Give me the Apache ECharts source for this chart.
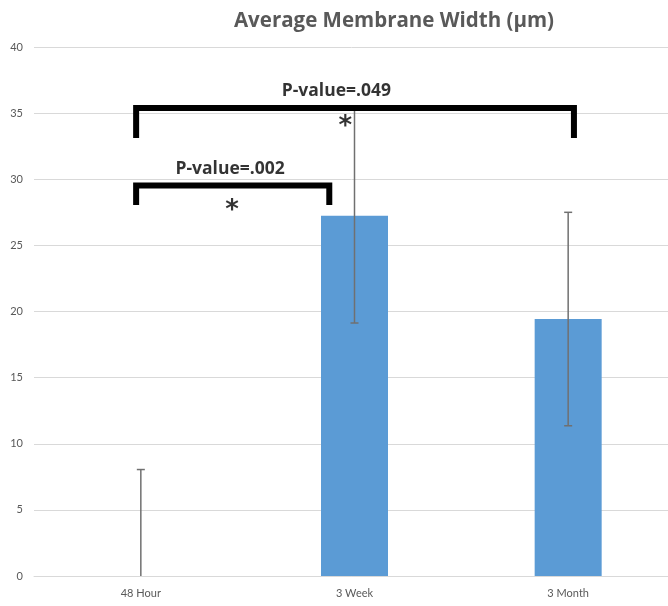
<!DOCTYPE html>
<html>
<head>
<meta charset="utf-8">
<script src="https://cdn.jsdelivr.net/npm/echarts@6/dist/echarts.min.js"></script>
<style>html,body{margin:0;padding:0;background:#fff}#c{width:668px;height:606px}</style>
</head>
<body>
<div id="c"></div>
<script>
const titleText = 'Average Membrane Width (µm)';
const categories = ['48 Hour', '3 Week', '3 Month'];
const means = [0, 27.24, 19.43];
const errors = [8.05, 8.11, 8.07];
const yTicks = [0, 5, 10, 15, 20, 25, 30, 35, 40];

// bracket annotations (x in category units on a hidden value axis, y in data units)
const bracketWide = [[-0.022, 33.12], [-0.022, 35.39], [2.027, 35.39], [2.027, 33.12]];
const bracketNarrow = [[-0.022, 28.05], [-0.022, 29.53], [0.882, 29.53], [0.882, 28.05]];
const pLabels = [[0.915, 36.65, 'P-value=.049'], [0.418, 30.75, 'P-value=.002']];
const stars = [[0.957, 33.95], [0.427, 27.6]];

const chart = echarts.init(document.getElementById('c'));
const errData = categories.map((c, i) => [i, Math.max(0, means[i] - errors[i]), means[i] + errors[i], means[i] - errors[i] >= 0 ? 1 : 0]);

chart.setOption({
  animation: false,
  title: {
    text: titleText, left: 389, top: 6, textAlign: 'center',
    textStyle: { fontFamily: 'Open Sans', fontWeight: 'bold', fontSize: 20.5, color: '#595959' }
  },
  grid: { left: 34, top: 47, width: 641, height: 529, containLabel: false, outerBoundsMode: 'none' },
  xAxis: [{
    type: 'category', data: categories,
    axisLine: { lineStyle: { color: '#d9d9d9', width: 1 } },
    axisTick: { show: false },
    axisLabel: { color: '#595959', fontSize: 11, fontFamily: 'Lato', margin: 12 }
  }, {
    type: 'value', min: -0.5, max: 2.5, show: false
  }],
  yAxis: {
    type: 'value', min: yTicks[0], max: yTicks[yTicks.length - 1], interval: 5,
    axisLine: { show: false }, axisTick: { show: false },
    splitLine: { lineStyle: { color: '#d9d9d9', width: 1 } },
    axisLabel: { color: '#595959', fontSize: 11, fontFamily: 'Lato', margin: 11 }
  },
  series: [{
    type: 'bar', data: means, barWidth: 67, xAxisIndex: 0,
    itemStyle: { color: '#5b9bd5' }, z: 2
  }, {
    type: 'custom', xAxisIndex: 0, data: errData, z: 3,
    renderItem: function (params, api) {
      const x = api.value(0);
      const lo = api.coord([x, api.value(1)]);
      const hi = api.coord([x, api.value(2)]);
      const hasLowCap = api.value(3) === 1;
      const cw = 4;
      const st = { stroke: '#707070', lineWidth: 1.5 };
      const children = [
        { type: 'line', shape: { x1: hi[0], y1: hi[1], x2: lo[0], y2: lo[1] }, style: st },
        { type: 'line', shape: { x1: hi[0] - cw, y1: hi[1], x2: hi[0] + cw, y2: hi[1] }, style: st }
      ];
      if (hasLowCap) children.push({ type: 'line', shape: { x1: lo[0] - cw, y1: lo[1], x2: lo[0] + cw, y2: lo[1] }, style: st });
      return { type: 'group', children: children };
    }
  }, {
    type: 'line', xAxisIndex: 1, data: bracketWide, symbol: 'none', z: 5,
    lineStyle: { color: '#000', width: 6, join: 'miter', cap: 'butt' }
  }, {
    type: 'line', xAxisIndex: 1, data: bracketNarrow, symbol: 'none', z: 5,
    lineStyle: { color: '#000', width: 6, join: 'miter', cap: 'butt' }
  }, {
    type: 'scatter', xAxisIndex: 1, symbolSize: 0, z: 6,
    data: pLabels.map(p => ({ value: [p[0], p[1]], name: p[2] })),
    label: {
      show: true, position: 'inside', formatter: p => p.name,
      fontFamily: 'Open Sans', fontWeight: 'bold', fontSize: 17.5, color: '#000'
    }
  }, {
    type: 'scatter', xAxisIndex: 1, symbolSize: 0, z: 6,
    data: stars,
    label: {
      show: true, position: 'inside', formatter: '*',
      fontFamily: 'DejaVu Sans', fontWeight: 'bold', fontSize: 26, color: '#000'
    }
  }]
});
</script>
</body>
</html>
